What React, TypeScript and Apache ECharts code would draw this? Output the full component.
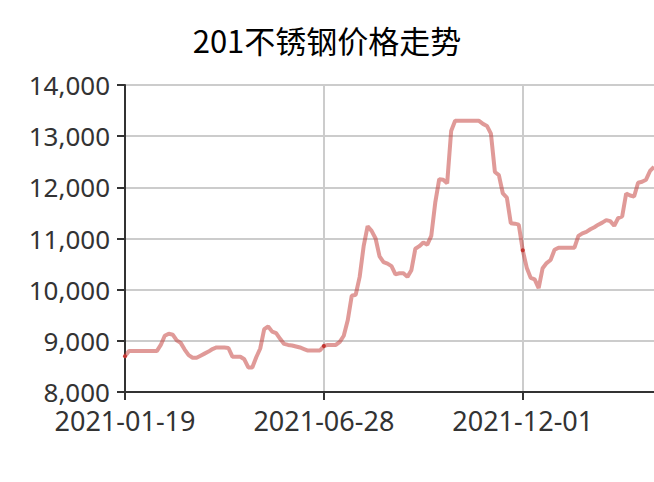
import React, { useEffect, useRef } from "react";
import * as echarts from "echarts";

const titleText = "201不锈钢价格走势";

const dates: string[] = [
  "2021-01-19", "2021-01-22", "2021-01-25", "2021-01-28", "2021-01-31", "2021-02-04", "2021-02-07", "2021-02-10", "2021-02-13", "2021-02-16",
  "2021-02-20", "2021-02-23", "2021-02-26", "2021-03-01", "2021-03-04", "2021-03-08", "2021-03-11", "2021-03-14", "2021-03-17", "2021-03-20",
  "2021-03-24", "2021-03-27", "2021-03-30", "2021-04-02", "2021-04-05", "2021-04-09", "2021-04-12", "2021-04-15", "2021-04-18", "2021-04-21",
  "2021-04-25", "2021-04-28", "2021-05-01", "2021-05-04", "2021-05-07", "2021-05-11", "2021-05-14", "2021-05-17", "2021-05-20", "2021-05-23",
  "2021-05-27", "2021-05-30", "2021-06-02", "2021-06-05", "2021-06-08", "2021-06-12", "2021-06-15", "2021-06-18", "2021-06-21", "2021-06-24",
  "2021-06-28", "2021-07-01", "2021-07-04", "2021-07-07", "2021-07-10", "2021-07-14", "2021-07-17", "2021-07-20", "2021-07-23", "2021-07-26",
  "2021-07-30", "2021-08-02", "2021-08-05", "2021-08-08", "2021-08-11", "2021-08-15", "2021-08-18", "2021-08-21", "2021-08-24", "2021-08-27",
  "2021-08-31", "2021-09-03", "2021-09-06", "2021-09-09", "2021-09-12", "2021-09-16", "2021-09-19", "2021-09-22", "2021-09-25", "2021-09-28",
  "2021-10-02", "2021-10-05", "2021-10-08", "2021-10-11", "2021-10-14", "2021-10-17", "2021-10-20", "2021-10-23", "2021-10-26", "2021-10-29",
  "2021-11-01", "2021-11-04", "2021-11-07", "2021-11-10", "2021-11-13", "2021-11-16", "2021-11-19", "2021-11-22", "2021-11-25", "2021-11-28",
  "2021-12-01", "2021-12-04", "2021-12-07", "2021-12-10", "2021-12-13", "2021-12-16", "2021-12-19", "2021-12-22", "2021-12-25", "2021-12-28",
  "2021-12-31", "2022-01-03", "2022-01-06", "2022-01-09", "2022-01-12", "2022-01-15", "2022-01-18", "2022-01-21", "2022-01-24", "2022-01-27",
  "2022-01-30", "2022-02-02", "2022-02-05", "2022-02-08", "2022-02-11", "2022-02-14", "2022-02-17", "2022-02-20", "2022-02-23", "2022-02-26",
  "2022-03-01", "2022-03-04", "2022-03-07", "2022-03-10",
];

const prices: number[] = [
  8700, 8800, 8800, 8800, 8800, 8800, 8800, 8800, 8800, 8920,
  9100, 9140, 9120, 9010, 8960, 8830, 8720, 8670, 8670, 8710,
  8750, 8790, 8840, 8870, 8870, 8870, 8860, 8690, 8690, 8690,
  8640, 8480, 8480, 8680, 8850, 9230, 9280, 9180, 9150, 9040,
  8940, 8920, 8910, 8890, 8870, 8840, 8810, 8810, 8810, 8810,
  8900, 8920, 8920, 8920, 8980, 9100, 9400, 9880, 9900, 10250,
  10850, 11240, 11150, 11000, 10650, 10540, 10510, 10460, 10300, 10320,
  10320, 10250, 10380, 10800, 10850, 10920, 10880, 11050, 11700, 12160,
  12150, 12080, 13100, 13300, 13300, 13300, 13300, 13300, 13300, 13300,
  13240, 13200, 13050, 12300, 12240, 11880, 11800, 11300, 11290, 11270,
  10770, 10430, 10230, 10200, 10030, 10420, 10520, 10580, 10780, 10820,
  10820, 10820, 10820, 10820, 11050, 11100, 11130, 11180, 11220, 11270,
  11310, 11360, 11340, 11250, 11400, 11430, 11880, 11840, 11820, 12090,
  12110, 12150, 12320, 12400,
];

const yMin = 8000;
const yMax = 14000;
const yStep = 1000;

export default function App() {
  const ref = useRef<HTMLDivElement>(null);
  useEffect(() => {
    if (!ref.current) return;
    const chart = echarts.init(ref.current, undefined, { renderer: "svg" });
    chart.setOption({
      animation: false,
      backgroundColor: "#ffffff",
      title: {
        text: titleText,
        left: "center",
        top: 19,
        textStyle: {
          fontSize: 31,
          fontWeight: "normal",
          color: "#000",
          fontFamily: "Noto Sans CJK SC",
        },
      },
      grid: { left: 125, right: 0, top: 85, bottom: 90, containLabel: false },
      xAxis: {
        type: "category",
        data: dates,
        boundaryGap: false,
        axisLine: { show: true, lineStyle: { color: "#333", width: 2 } },
        axisTick: { show: true, interval: 49, length: 8, lineStyle: { color: "#333", width: 2 } },
        axisLabel: {
          interval: 49,
          margin: 15,
          fontSize: 27,
          color: "#333",
          fontFamily: "Noto Sans",
        },
        splitLine: { show: true, interval: 49, lineStyle: { color: "#ccc", width: 2 } },
      },
      yAxis: {
        type: "value",
        min: yMin,
        max: yMax,
        interval: yStep,
        axisLine: { show: true, lineStyle: { color: "#333", width: 2 } },
        axisTick: { show: true, length: 8, lineStyle: { color: "#333", width: 2 } },
        axisLabel: {
          margin: 15,
          fontSize: 26,
          color: "#333",
          fontFamily: "Noto Sans",
          formatter: (v: number) => v.toLocaleString("en-US"),
        },
        splitLine: { show: true, lineStyle: { color: "#ccc", width: 2 } },
      },
      series: [
        {
          type: "line",
          data: prices,
          symbol: "circle",
          symbolSize: 4,
          showSymbol: true,
          showAllSymbol: "auto",
          itemStyle: { color: "#c23531" },
          lineStyle: { color: "#c23531", width: 4, opacity: 0.5 },
        },
      ],
    });
    return () => chart.dispose();
  }, []);
  return (
    <div
      ref={ref}
      style={{ position: "fixed", left: 0, top: 0, width: 654, height: 482 }}
    />
  );
}
